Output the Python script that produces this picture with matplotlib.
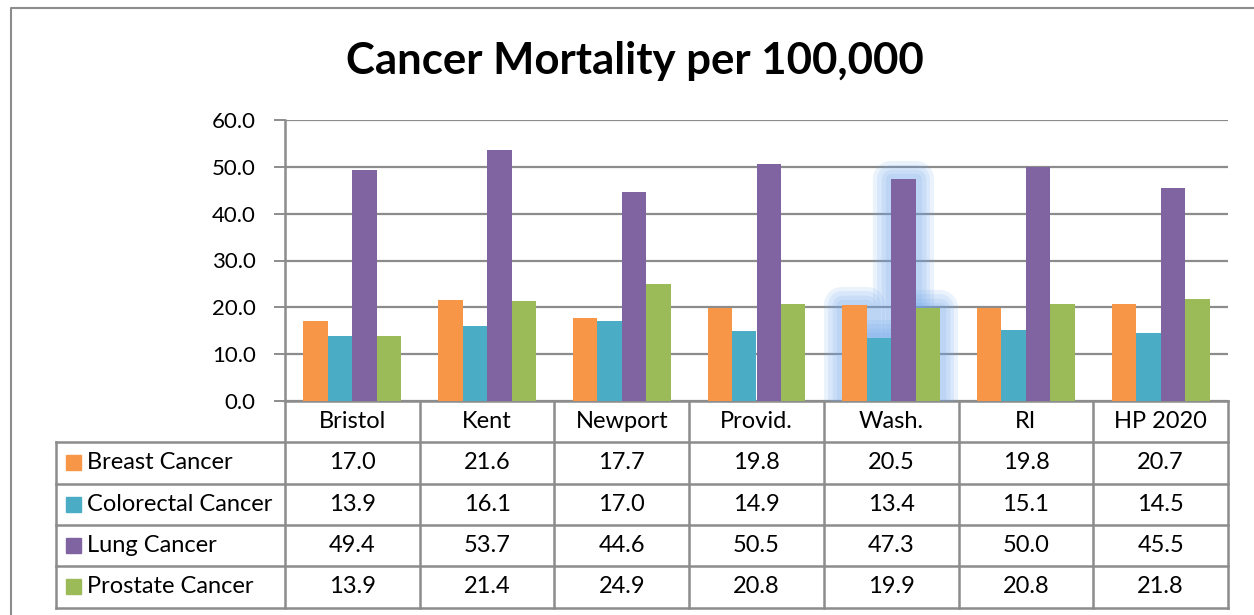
import matplotlib.pyplot as plt
import numpy as np

# data
regions = ['Bristol', 'Kent', 'Newport', 'Provid.', 'Wash.', 'RI', 'HP 2020']
series = ['Breast Cancer', 'Colorectal Cancer', 'Lung Cancer', 'Prostate Cancer']
breast = [17.0, 21.6, 17.7, 19.8, 20.5, 19.8, 20.7]
colorectal = [13.9, 16.1, 17.0, 14.9, 13.4, 15.1, 14.5]
lung = [49.4, 53.7, 44.6, 50.5, 47.3, 50.0, 45.5]
prostate = [13.9, 21.4, 24.9, 20.8, 19.9, 20.8, 21.8]
values = [breast, colorectal, lung, prostate]
colors = ['#F79646', '#4BACC6', '#8064A2', '#9BBB59']
yticks = [0, 10, 20, 30, 40, 50, 60]
selected = 'Wash.'  # category shown with the selection glow

plt.rcParams['font.family'] = ['Lato', 'DejaVu Sans']
W, H = 1254, 615
grid_c = '#8C8C8C'

fig = plt.figure(figsize=(W / 100, H / 100), dpi=100)

# pixel layout
px_l, px_r, px_top, px_base = 285, 1228, 120, 401
tab_l = 56
row_h = 41.3
n = len(regions)

# overlay axes in pixel coordinates for table, frame, title
ov = fig.add_axes([0, 0, 1, 1])
ov.set_xlim(0, W)
ov.set_ylim(H, 0)
ov.axis('off')

ax = fig.add_axes([px_l / W, (H - px_base) / H, (px_r - px_l) / W, (px_base - px_top) / H])
ax.set_xlim(-0.5, n - 0.5)
ax.set_ylim(0, 60)
ax.set_facecolor('none')
for s in ax.spines.values():
    s.set_visible(False)
ax.set_yticks(yticks)
ax.yaxis.grid(True, color=grid_c, linewidth=1.6)
ax.set_axisbelow(True)
ax.set_xticks([])
ax.set_yticklabels([f'{v:.1f}' for v in yticks], fontsize=16)
ax.tick_params(axis='y', length=8, width=1.4, color=grid_c, pad=13)

bw = 1 / 5.5
x = np.arange(n)
sel = regions.index(selected)
for i, (vals, c) in enumerate(zip(values, colors)):
    bars = ax.bar(x + (i - 1.5) * bw, vals, width=bw, color=c, zorder=3)
    b = bars[sel]
    for lw_g in [26, 20, 14, 8]:
        ax.add_patch(plt.Rectangle(b.get_xy(), b.get_width(), b.get_height(),
                                   facecolor='none', edgecolor='#6FA6EC',
                                   lw=lw_g, alpha=0.14, joinstyle='round',
                                   zorder=2.5, clip_on=True))

# outer frame
ov.plot([11, 11, W + 5], [H + 5, 8, 8], color='#8C8C8C', lw=1.5)

# title
ov.text(635, 61, 'Cancer Mortality per 100,000', ha='center', va='center',
        fontsize=31.5, fontweight='bold')

# table
col_w = (px_r - px_l) / n
lw = 1.8
ov.plot([px_l, px_l], [px_top, px_base], color=grid_c, lw=lw)
ov.plot([px_l, px_r], [px_base, px_base], color=grid_c, lw=lw)
bottom = px_base + row_h * 5
for k in range(1, 6):
    y = px_base + row_h * k
    ov.plot([tab_l, px_r], [y, y], color=grid_c, lw=lw)
ov.plot([tab_l, tab_l], [px_base + row_h, bottom], color=grid_c, lw=lw)
for j in range(n + 1):
    xx = px_l + col_w * j
    ov.plot([xx, xx], [px_base, bottom], color=grid_c, lw=lw)
fs = 17
for j, r in enumerate(regions):
    ov.text(px_l + col_w * (j + 0.5), px_base + row_h * 0.5, r, ha='center',
            va='center', fontsize=fs)
for i, (name, vals, c) in enumerate(zip(series, values, colors)):
    yc = px_base + row_h * (i + 1.5)
    ov.add_patch(plt.Rectangle((66, yc - 7.5), 15, 15, color=c))
    ov.text(87, yc, name, ha='left', va='center', fontsize=fs)
    for j, v in enumerate(vals):
        ov.text(px_l + col_w * (j + 0.5), yc, f'{v:.1f}', ha='center',
                va='center', fontsize=fs)

fig.savefig('out.png', dpi=100)
